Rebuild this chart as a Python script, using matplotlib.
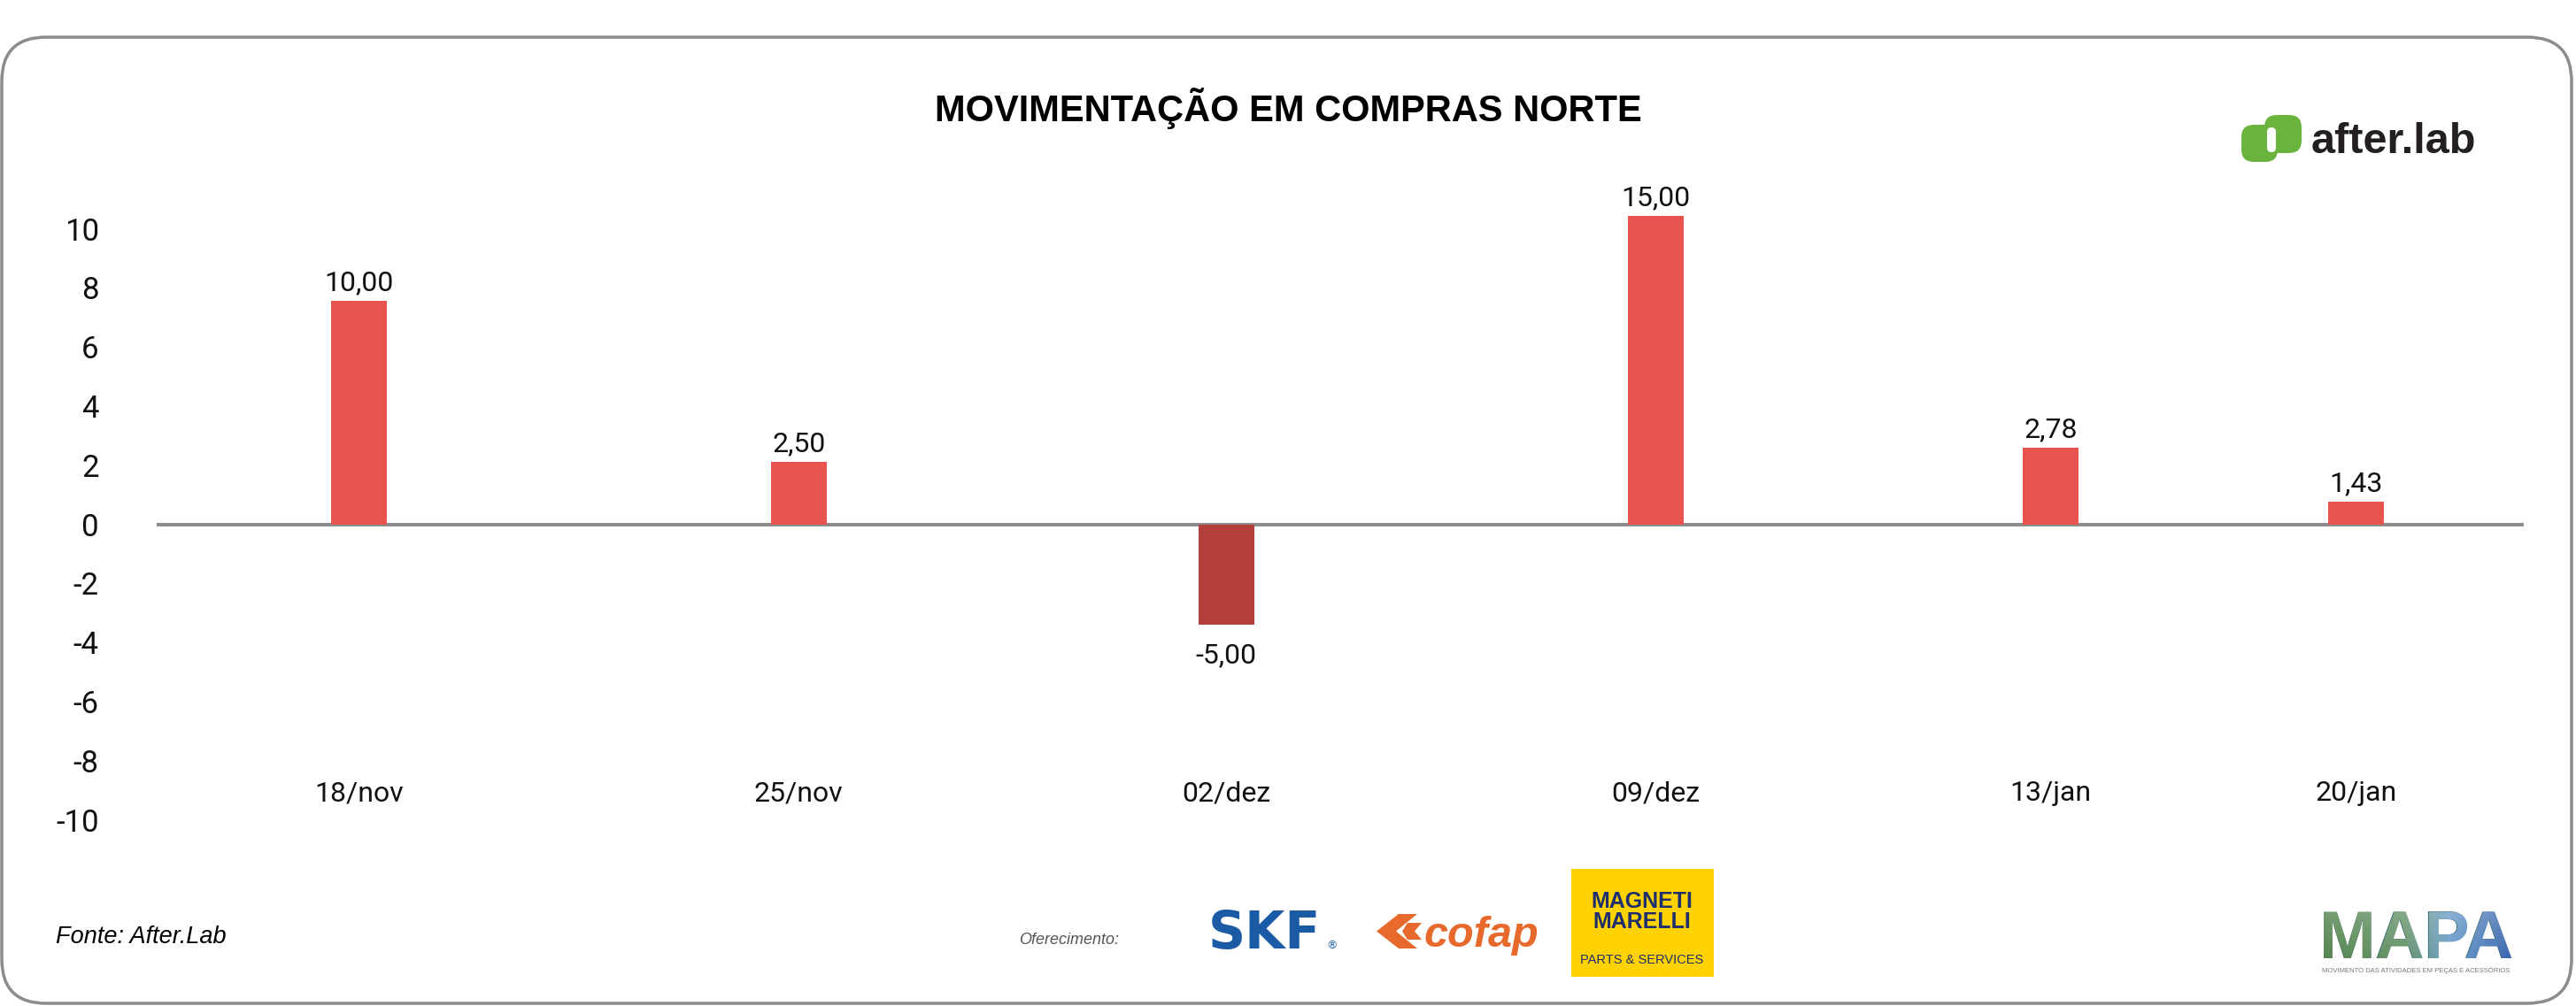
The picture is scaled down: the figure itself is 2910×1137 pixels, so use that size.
import matplotlib
matplotlib.use("Agg")
import matplotlib.pyplot as plt
import numpy as np
from matplotlib.patches import FancyBboxPatch, Polygon, Rectangle
from matplotlib.transforms import Affine2D
from matplotlib.textpath import TextPath
from matplotlib.font_manager import FontProperties

# ---------------- data ----------------
categories = ["18/nov", "25/nov", "02/dez", "09/dez", "13/jan", "20/jan"]
# bar heights as drawn against the y scale of the reference
bar_heights = [7.55, 2.10, -3.40, 10.42, 2.60, 0.75]
# value annotations printed above / below each bar
value_labels = ["10,00", "2,50", "-5,00", "15,00", "2,78", "1,43"]
y_ticks = [-10, -8, -6, -4, -2, 0, 2, 4, 6, 8, 10]
y_tick_labels = ["-10", "-8", "-6", "-4", "-2", "0", "2", "4", "6", "8", "10"]
title = "MOVIMENTAÇÃO EM COMPRAS NORTE"
source = "Fonte: After.Lab"

# ---------------- layout ----------------
# category slot centres (spacing is uneven in the reference)
slot_centres = [0.0, 1.10, 2.17, 3.245, 4.235, 5.0]
W, H = 2910, 1137
POS = "#E9534F"
NEG = "#B3403B"
GRID = "#8c8c8c"
plt.rcParams["font.family"] = ["Roboto", "DejaVu Sans"]

fig = plt.figure(figsize=(W / 100, H / 100), dpi=100)
fig.patch.set_facecolor("white")
T = Affine2D().scale(1, -1).translate(0, H)  # pixel (top-left origin) -> display


def fx(x):
    return x / W


def fy(y):
    return 1 - y / H


# rounded frame
frame = FancyBboxPatch((2, 42), 2903, 1092, boxstyle="round,pad=0,rounding_size=50",
                       transform=T, fill=False, ec=GRID, lw=2.5)
fig.add_artist(frame)

# ---------------- axes ----------------
ax = fig.add_axes([fx(177), fy(959.9), 2674 / W, 768.2 / H])
ax.set_xlim(-0.5075, 5.419)
ax.set_ylim(-11, 12)
ax.patch.set_alpha(0)
for s in ax.spines.values():
    s.set_visible(False)

colors = [POS if h >= 0 else NEG for h in bar_heights]
ax.bar(slot_centres, bar_heights, width=0.1396, color=colors, zorder=3)
ax.axhline(0, color=GRID, lw=2.9, zorder=2)

ax.set_xticks([])
ax.set_yticks(y_ticks)
ax.set_yticklabels(y_tick_labels)
ax.tick_params(axis="y", length=0, pad=47, labelsize=25, labelcolor="#111111")

for x, h, lab in zip(slot_centres, bar_heights, value_labels):
    off = 8.6 if h >= 0 else -31
    ax.annotate(lab, (x, h), xytext=(0, off), textcoords="offset points",
                ha="center", va="baseline", fontsize=23, color="#111111")

for x, cat in zip(slot_centres, categories):
    ax.text(x, -9.36, cat, ha="center", va="baseline", fontsize=23, color="#111111")

# ---------------- titles / texts ----------------
fig.text(fx(1455), fy(137), title, ha="center", va="baseline", fontsize=30,
         weight="bold", family=["Liberation Sans", "DejaVu Sans"], color="#000000")

fig.text(fx(63), fy(1066), source, ha="left", va="baseline", fontsize=19.5,
         style="italic", family=["Liberation Sans", "DejaVu Sans"], color="#000000")

# after.lab logo
green = "#6AB43E"
fig.add_artist(FancyBboxPatch((2532, 141), 41, 42, boxstyle="round,pad=0,rounding_size=14",
                              transform=T, fc=green, ec="none"))
fig.add_artist(FancyBboxPatch((2558, 130), 42, 43, boxstyle="round,pad=0,rounding_size=14",
                              transform=T, fc=green, ec="none"))
fig.add_artist(FancyBboxPatch((2561, 144), 10, 28, boxstyle="round,pad=0,rounding_size=5",
                              transform=T, fc="white", ec="none"))
fig.text(fx(2611), fy(173), "after.lab", ha="left", va="baseline", fontsize=35,
         weight="bold", family=["Liberation Sans", "DejaVu Sans"], color="#231f20")

# sponsors
fig.text(fx(1151), fy(1067), "Oferecimento:", ha="left", va="baseline", fontsize=13,
         style="italic", family=["Liberation Sans", "DejaVu Sans"], color="#555555")
fig.text(fx(1428), fy(1072), "SKF", ha="center", va="baseline", fontsize=42,
         weight="bold", family=["DejaVu Sans"], color="#1B5BA6")
fig.text(fx(1498), fy(1072), "®", ha="left", va="baseline", fontsize=9,
         family=["DejaVu Sans"], color="#1B5BA6")

orange = "#E8692C"
fig.add_artist(Polygon([(1580, 1033), (1601, 1033), (1577, 1052.5), (1601, 1072),
                        (1580, 1072), (1555, 1052.5)], closed=True, transform=T,
                       fc=orange, ec="none"))
fig.add_artist(Polygon([(1590, 1043), (1606, 1043), (1598, 1052.5), (1606, 1062),
                        (1590, 1062), (1584, 1052.5)], closed=True, transform=T,
                       fc=orange, ec="none"))
fig.text(fx(1609), fy(1070), "cofap", ha="left", va="baseline", fontsize=35,
         weight="bold", style="italic", family=["Liberation Sans", "DejaVu Sans"],
         color=orange)

navy = "#1E2F6E"
fig.add_artist(Rectangle((1775, 982), 161, 122, transform=T, fc="#FFD200", ec="none"))
fig.text(fx(1855), fy(1026), "MAGNETI", ha="center", va="baseline", fontsize=18,
         weight="bold", family=["Liberation Sans", "DejaVu Sans"], color=navy)
fig.text(fx(1855), fy(1049), "MARELLI", ha="center", va="baseline", fontsize=18,
         weight="bold", family=["Liberation Sans", "DejaVu Sans"], color=navy)
fig.text(fx(1855), fy(1089), "PARTS & SERVICES", ha="center", va="baseline",
         fontsize=10.5, family=["Liberation Sans", "DejaVu Sans"], color=navy)

# MAPA logo (real text + gradient overlay clipped to the same glyphs)
mapa_size = 55
fig.text(fx(2620), fy(1083), "MAPA", ha="left", va="baseline", fontsize=mapa_size,
         weight="bold", family=["Liberation Sans"], color="#3f7077", zorder=-1)
mapa_ax = fig.add_axes([fx(2605), fy(1090), 250 / W, 75 / H])
mapa_ax.set_zorder(5)
mapa_ax.axis("off")
nx, ny = 250, 80
t = np.linspace(0, 1, nx)
stops = [0.0, 0.45, 0.65, 1.0]
rs = [0.30, 0.40, 0.42, 0.16]
gs = [0.50, 0.58, 0.62, 0.32]
bs = [0.27, 0.42, 0.80, 0.64]
row = np.stack([np.interp(t, stops, rs), np.interp(t, stops, gs), np.interp(t, stops, bs)], axis=1)
v = np.linspace(0, 1, ny)[:, None, None]  # 0 top -> 1 bottom
k = 0.72 + 0.28 * v
grad = np.clip(row[None, :, :] * k + (1 - k) * 0.95, 0, 1)
im = mapa_ax.imshow(grad, extent=(0, 1, 0, 1), aspect="auto", interpolation="bilinear")
mapa_ax.set_xlim(0, 1)
mapa_ax.set_ylim(0, 1)
tp = TextPath((0, 0), "MAPA", size=mapa_size * 100 / 72,
              prop=FontProperties(family="Liberation Sans", weight="bold"))
im.set_clip_path(tp, transform=Affine2D().translate(2620, H - 1083))
fig.text(fx(2729), fy(1099), "MOVIMENTO DAS ATIVIDADES EM PEÇAS E ACESSÓRIOS",
         ha="center", va="baseline", fontsize=5.5,
         family=["Liberation Sans", "DejaVu Sans"], color="#777777")

fig.savefig("out.png", dpi=100, facecolor="white")
